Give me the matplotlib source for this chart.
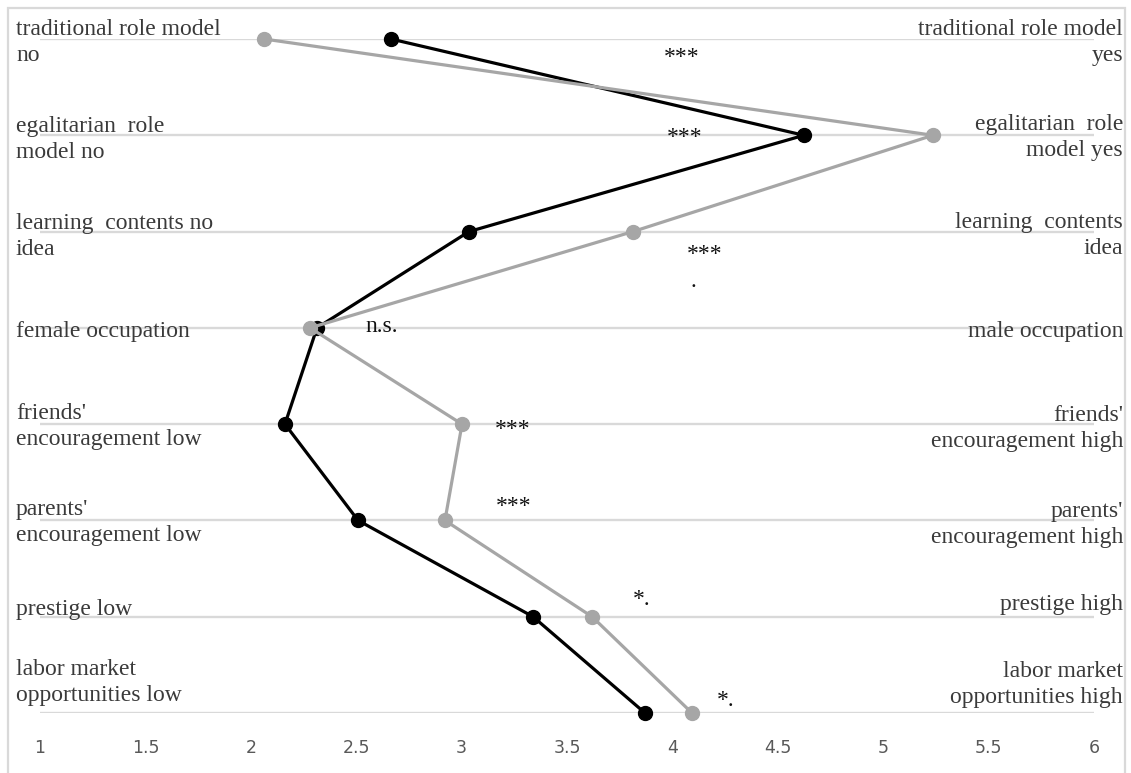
import matplotlib
matplotlib.use("Agg")
import matplotlib.pyplot as plt
import matplotlib.transforms as mtransforms
from matplotlib.patches import Rectangle

# ---- data ----
left_labels = [
    "traditional role model\nno",
    "egalitarian  role\nmodel no",
    "learning  contents no\nidea",
    "female occupation",
    "friends'\nencouragement low",
    "parents'\nencouragement low",
    "prestige low",
    "labor market\nopportunities low",
]
right_labels = [
    "traditional role model\nyes",
    "egalitarian  role\nmodel yes",
    "learning  contents\nidea",
    "male occupation",
    "friends'\nencouragement high",
    "parents'\nencouragement high",
    "prestige high",
    "labor market\nopportunities high",
]
black_values = [2.665, 4.624, 3.035, 2.314, 2.162, 2.509, 3.339, 3.870]
gray_values = [2.063, 5.236, 3.813, 2.281, 3.002, 2.921, 3.619, 4.093]
x_ticks = [1, 1.5, 2, 2.5, 3, 3.5, 4, 4.5, 5, 5.5, 6]
x_tick_labels = ["1", "1.5", "2", "2.5", "3", "3.5", "4", "4.5", "5", "5.5", "6"]

sig_text = ["***", "***", "***", ".", "n.s.", "***", "***", "*.", "*."]
sig_x = [4.046, 4.060, 4.155, 4.098, 2.622, 3.244, 3.249, 3.813, 4.212]
sig_y = [0.249, 1.083, 2.291, 2.58, 3.04, 4.114, 4.917, 5.875, 6.927]
sig_ha = ["center", "center", "center", "center", "center", "center", "center", "left", "left"]

# ---- figure ----
W, H = 1131, 773
PX_PER_CAT = 674 / 7
fig = plt.figure(figsize=(W / 100, H / 100), dpi=100)
fig.patch.set_facecolor("white")

ax = fig.add_axes([40 / W, (H - 713) / H, 1054 / W, 674 / H])
ax.set_xlim(1, 6)
ax.set_ylim(7, 0)
for s in ax.spines.values():
    s.set_visible(False)
ax.set_yticks([])
ax.set_xticks(x_ticks)
ax.set_xticklabels(x_tick_labels)
ax.tick_params(axis="x", length=0, pad=18.5, labelsize=12.5, labelcolor="#595959")

cats = list(range(len(left_labels)))
for c in cats:
    ax.axhline(c, color="#d9d9d9", lw=1.7, zorder=1)

ax.plot(black_values, cats, color="black", lw=2.3, marker="o", markersize=10,
        zorder=3, clip_on=False)
ax.plot(gray_values, cats, color="#a6a6a6", lw=2.3, marker="o", markersize=10,
        zorder=4, clip_on=False)

# category labels (first-line baseline offset from grid line, px)
left_off = [-4, -3, -3, 9, -5, -5, -2, -38]
right_off = [-4, -5, -4, 9, -3, -3, -7, -36]
LINE_PX = 26
tr = mtransforms.blended_transform_factory(fig.transFigure, ax.transData)
lab_kw = dict(family="Liberation Serif", fontsize=17, color="#3a3a3a",
              va="baseline", transform=tr, zorder=2)


def put_label(xfig, c, lab, off, ha):
    for i, line in enumerate(lab.split("\n")):
        ax.text(xfig, c + (off + i * LINE_PX) / PX_PER_CAT, line, ha=ha, **lab_kw)


for c, lab, off in zip(cats, left_labels, left_off):
    put_label(16 / W, c, lab, off, "left")
for c, lab, off in zip(cats, right_labels, right_off):
    put_label(1123 / W, c, lab, off, "right")

# significance markers
for t, x, y, ha in zip(sig_text, sig_x, sig_y, sig_ha):
    ax.text(x, y, t, ha=ha, va="baseline", family="Liberation Serif",
            fontsize=17, color="#111111", zorder=5)

# outer frame
fig.patches.append(Rectangle((8 / W, -0.05), 1117 / W, 1 - 8 / H + 0.05,
                             transform=fig.transFigure, fill=False,
                             edgecolor="#d9d9d9", lw=1.6))

fig.savefig("out.png", dpi=100)
